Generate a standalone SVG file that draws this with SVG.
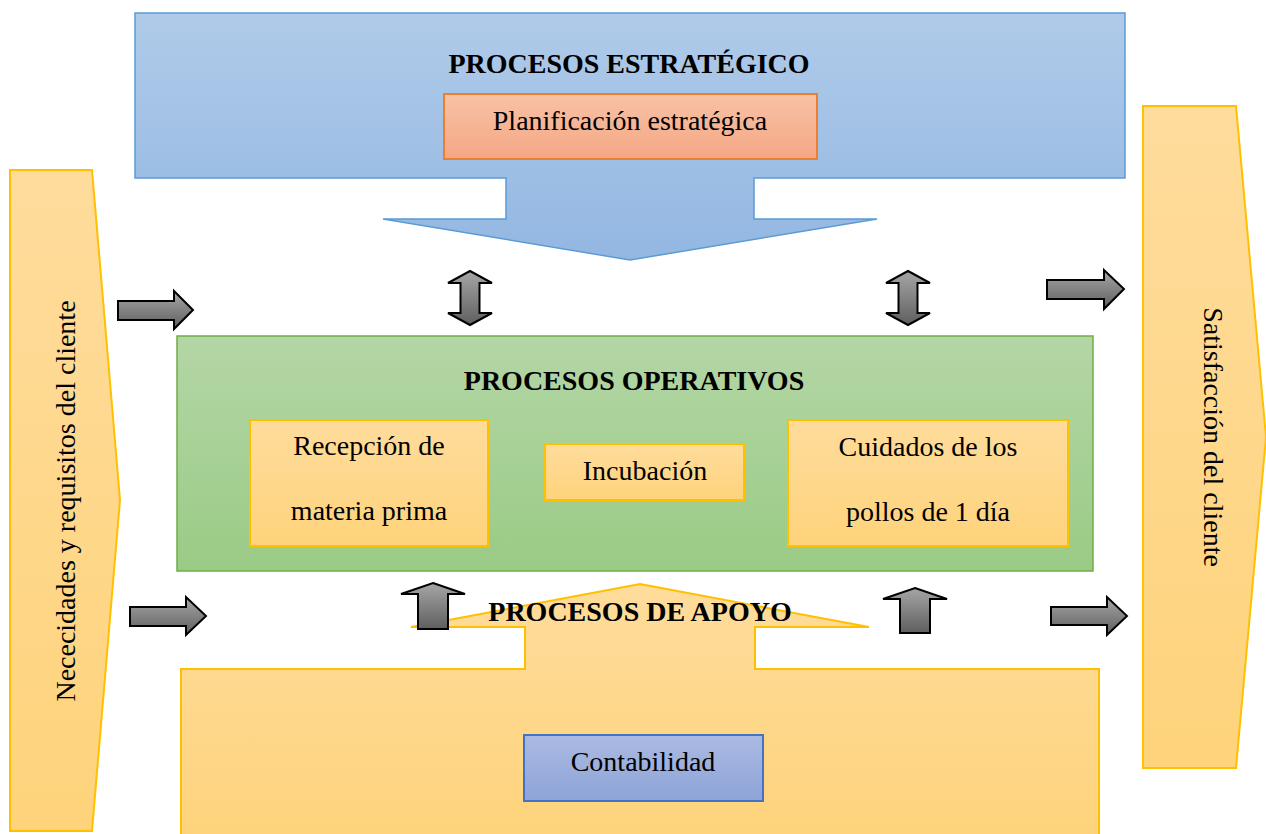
<svg xmlns="http://www.w3.org/2000/svg" width="1266" height="834" viewBox="0 0 1266 834">
<defs>
<linearGradient id="gBlue" x1="0" y1="0" x2="0" y2="1"><stop offset="0" stop-color="#b0cbe9"/><stop offset="1" stop-color="#93b7e2"/></linearGradient>
<linearGradient id="gGreen" x1="0" y1="0" x2="0" y2="1"><stop offset="0" stop-color="#b4d6a6"/><stop offset="1" stop-color="#9acb85"/></linearGradient>
<linearGradient id="gYellow" x1="0" y1="0" x2="0" y2="1"><stop offset="0" stop-color="#ffdc9c"/><stop offset="1" stop-color="#fed37b"/></linearGradient>
<linearGradient id="gOrange" x1="0" y1="0" x2="0" y2="1"><stop offset="0" stop-color="#f8c2a6"/><stop offset="1" stop-color="#f4a784"/></linearGradient>
<linearGradient id="gPurple" x1="0" y1="0" x2="0" y2="1"><stop offset="0" stop-color="#abbae3"/><stop offset="1" stop-color="#8da4d8"/></linearGradient>
<linearGradient id="gGrey" x1="0" y1="0" x2="0" y2="1"><stop offset="0" stop-color="#a6a6a6"/><stop offset="1" stop-color="#5f5f5f"/></linearGradient>
</defs>
<style>
.blue{fill:url(#gBlue);stroke:#5b9bd5;stroke-width:1.5}
.green{fill:url(#gGreen);stroke:#70ad47;stroke-width:1.5}
.yellow{fill:url(#gYellow);stroke:#ffc000;stroke-width:2}
.orange{fill:url(#gOrange);stroke:#ed7d31;stroke-width:2}
.purple{fill:url(#gPurple);stroke:#4472c4;stroke-width:2}
.arrow{fill:url(#gGrey);stroke:#000;stroke-width:2;stroke-linejoin:miter}
text{font-family:"Liberation Serif","Times New Roman",serif;fill:#000;text-anchor:middle}
.t{font-size:28px;font-weight:bold}
.n{font-size:28px}
</style>

<g id="necesidades">
<path class="yellow" d="M10,170 L92,170 L120,500 L92,831 L10,831 Z"/>
<text class="n" transform="translate(75,501) rotate(-90)">Nececidades y requisitos del cliente</text>
</g>

<g id="satisfaccion">
<path class="yellow" d="M1143,106 L1236,106 L1266,437 L1236,768 L1143,768 Z"/>
<text class="n" transform="translate(1204,437) rotate(90)">Satisfacción del cliente</text>
</g>

<g id="estrategico">
<path class="blue" d="M135,13 L1125,13 L1125,178 L754,178 L754,219 L877,219 L630,260 L383,219 L506,219 L506,178 L135,178 Z"/>
<text class="t" x="629" y="73">PROCESOS ESTRATÉGICO</text>
</g>
<g id="planificacion">
<rect class="orange" x="444" y="94" width="373" height="65"/>
<text class="n" x="630" y="130">Planificación estratégica</text>
</g>

<g id="operativos">
<rect class="green" x="177" y="336" width="916" height="235"/>
<text class="t" x="634" y="390">PROCESOS OPERATIVOS</text>
</g>
<g id="recepcion">
<rect class="yellow" x="250" y="420" width="238" height="126"/>
<text class="n" x="369" y="455">Recepción de</text>
<text class="n" x="369" y="520">materia prima</text>
</g>
<g id="incubacion">
<rect class="yellow" x="545" y="444" width="199" height="56"/>
<text class="n" x="645" y="480">Incubación</text>
</g>
<g id="cuidados">
<rect class="yellow" x="788" y="420" width="280" height="126"/>
<text class="n" x="928" y="456">Cuidados de los</text>
<text class="n" x="928" y="521">pollos de 1 día</text>
</g>

<g id="apoyo">
<path class="yellow" d="M181,840 L181,669 L525,669 L525,627 L411,627 L640,584 L869,627 L755,627 L755,669 L1099,669 L1099,840 Z"/>
</g>
<g id="contabilidad">
<rect class="purple" x="524" y="735" width="239" height="66"/>
<text class="n" x="643" y="771">Contabilidad</text>
</g>

<g id="connectors">
<path class="arrow" d="M470,271 L492,283 L479.5,283 L479.5,313 L492,313 L470,325 L448,313 L460.5,313 L460.5,283 L448,283 Z"/>
<path class="arrow" d="M908,271 L930,283 L917.5,283 L917.5,313 L930,313 L908,325 L886,313 L898.5,313 L898.5,283 L886,283 Z"/>
<path class="arrow" d="M433,583 L465,594 L448,594 L448,629 L418,629 L418,594 L401,594 Z"/>
<path class="arrow" d="M915,588 L947,599 L930,599 L930,633 L900,633 L900,599 L883,599 Z"/>
<path class="arrow" d="M118,301 L174,301 L174,291 L193,310 L174,329 L174,320 L118,320 Z"/>
<path class="arrow" d="M130,607 L186,607 L186,597 L206,616 L186,635 L186,626 L130,626 Z"/>
<path class="arrow" d="M1047,280 L1104,280 L1104,270 L1124,289 L1104,309 L1104,299 L1047,299 Z"/>
<path class="arrow" d="M1051,607 L1107,607 L1107,597 L1127,616 L1107,635 L1107,625 L1051,625 Z"/>
</g>

<text class="t" x="640" y="621">PROCESOS DE APOYO</text>
</svg>
